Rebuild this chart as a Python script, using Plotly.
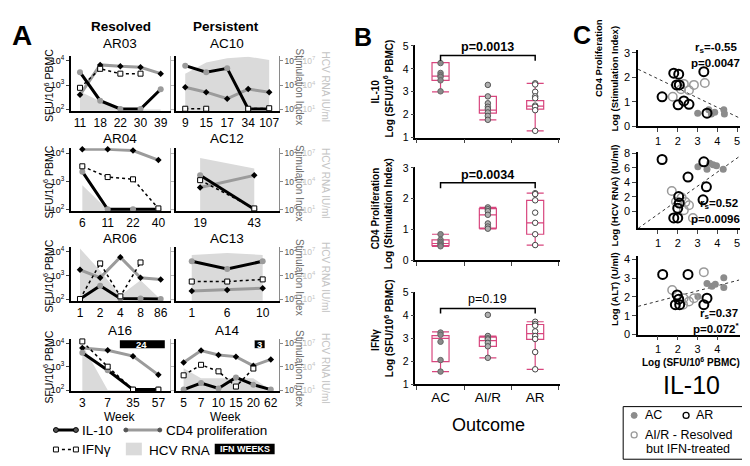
import plotly.graph_objects as go

W, H = 750, 466
NARROW = "Liberation Sans Narrow, Arial Narrow, Liberation Sans, Arial, sans-serif"
SANS = "Liberation Sans, Arial, sans-serif"
PINK = "#d8467e"
GREY_LINE = "#9b9b9b"
HCV_FILL = "#dadada"

# ---------------- Panel A data (log10 units) ----------------
# il10 / ifng: log10 SFU/10^6 PBMC ; cd4: log10 stimulation index ; hcv: log10 IU/ml
ar03_weeks = ["11", "18", "22", "30", "39"]
ar03_il10 = [3.53, 2.36, 2.02, 2.02, 2.83]
ar03_cd4 = [0.60, 1.83, 1.77, 1.73, 1.47]
ar03_ifng = [2.89, 3.67, 3.47, 3.47, None]
ar03_hcv = [3.2, 2.0, 1.0, 1.0, 1.0]

ac10_weeks = ["9", "15", "17", "34", "107"]
ac10_il10 = [3.80, 3.53, 3.69, 2.02, 2.02]
ac10_cd4 = [0.91, 0.71, 0.44, 0.84, 0.71]
ac10_ifng = [2.03, 2.03, None, 2.03, 2.05]
ac10_hcv = [5.4, 6.8, 7.3, 7.5, 7.1]

ar04_weeks = ["6", "11", "22", "40"]
ar04_il10 = [3.35, 2.02, 2.02, 2.02]
ar04_cd4 = [2.14, 2.14, 2.10, 1.76]
ar04_ifng = [3.54, 3.16, 3.08, 2.05]
ar04_hcv = [3.6, 1.0, 1.0, 1.0]

ac12_weeks = ["19", "43"]
ac12_il10 = [3.22, 2.02]
ac12_cd4 = [0.79, 1.22]
ac12_ifng = [3.05, 2.05]
ac12_hcv = [6.5, 5.4]

ar06_weeks = ["1", "2", "4", "8", "86"]
ar06_il10 = [2.02, 2.57, 2.04, 2.04, 2.02]
ar06_cd4 = [1.24, 0.91, 1.77, 0.91, 0.84]
ar06_ifng = [2.02, 3.51, 2.13, 3.55, None]
ar06_hcv = [7.4, 4.6, 1.5, 3.4, 1.0]

ac13_weeks = ["1", "6", "10"]
ac13_il10 = [3.60, 3.28, 3.60]
ac13_cd4 = [0.35, 0.40, 0.47]
ac13_ifng = [2.75, 2.75, 2.84]
ac13_hcv = [6.6, 6.85, 6.6]

a16_weeks = ["3", "7", "35", "57"]
a16_il10 = [3.60, 2.85, 2.02, 2.02]
a16_cd4 = [1.80, 1.70, 1.45, 0.65]
a16_ifng = [4.08, 3.00, 2.02, 2.02]
a16_hcv = [6.8, 1.0, 1.0, 1.0]

a14_weeks = ["5", "7", "10", "15", "20", "62"]
a14_il10 = [2.02, 2.30, 2.07, 2.54, 2.23, 2.02]
a14_cd4 = [1.18, 1.69, 1.50, 1.43, 1.04, 1.31]
a14_ifng = [2.63, 3.08, 2.80, 2.15, 2.92, None]
a14_hcv = [3.8, 2.5, 2.5, 2.5, 2.5, 1.0]

sfu_ticktext = ["10<sup>2</sup>", "10<sup>3</sup>", "10<sup>4</sup>"]
si_ticktext = ["10<sup>0</sup>", "10<sup>1</sup>", "10<sup>2</sup>"]
hcv_ticktext = ["10<sup>1</sup>", "10<sup>4</sup>", "10<sup>7</sup>"]

# ---------------- Panel B data ----------------
b_cats = ["AC", "AI/R", "AR"]
b_il10_ac = [4.25, 3.82, 3.72, 3.65, 3.50, 3.02]
b_il10_air = [3.30, 2.80, 2.50, 2.35, 2.25, 2.10, 1.95, 1.78]
b_il10_ar = [3.37, 3.32, 3.00, 2.80, 2.72, 2.40, 2.35, 2.20, 1.30]
b_il10_q1 = [3.50, 2.07, 2.25]
b_il10_med = [3.68, 2.20, 2.38]
b_il10_q3 = [4.27, 2.80, 2.62]
b_il10_lo = [3.00, 1.78, 1.30]
b_il10_hi = [4.27, 2.80, 3.37]

b_cd4_ac = [0.85, 0.67, 0.60, 0.55, 0.50, 0.46]
b_cd4_air = [1.72, 1.66, 1.60, 1.48, 1.20, 1.10, 1.03]
b_cd4_ar = [2.18, 2.15, 1.95, 1.55, 1.22, 0.85, 0.50]
b_cd4_q1 = [0.48, 1.05, 0.85]
b_cd4_med = [0.55, 1.48, 1.22]
b_cd4_q3 = [0.67, 1.68, 1.95]
b_cd4_lo = [0.46, 1.02, 0.50]
b_cd4_hi = [0.85, 1.72, 2.18]

b_ifng_ac = [3.25, 3.15, 2.85, 2.05, 1.55]
b_ifng_air = [4.02, 3.10, 3.00, 2.95, 2.80, 2.65, 2.15]
b_ifng_ar = [3.72, 3.62, 3.55, 3.30, 3.10, 2.97, 2.40, 1.65]
b_ifng_q1 = [1.98, 2.65, 2.95]
b_ifng_med = [3.00, 2.90, 3.20]
b_ifng_q3 = [3.12, 3.05, 3.60]
b_ifng_lo = [1.55, 2.15, 1.65]
b_ifng_hi = [3.28, 3.10, 3.72]

# ---------------- Panel C data ----------------
c1_ar_x = [1.80, 2.05, 3.32, 1.21, 1.94, 2.08, 2.31, 2.02, 2.57, 3.48]
c1_ar_y = [2.17, 2.13, 2.23, 1.20, 1.69, 1.69, 1.03, 0.87, 0.89, 0.53]
c1_air_x = [1.75, 2.31, 2.17, 2.57, 2.82, 3.37]
c1_air_y = [1.20, 1.73, 1.51, 1.47, 1.69, 1.77]
c1_ac_x = [3.01, 3.57, 3.70, 3.87, 4.33, 4.36]
c1_ac_y = [0.53, 0.67, 0.49, 0.57, 0.67, 0.49]
c1_fit_x = [0.0, 5.1]
c1_fit_y = [2.33, 0.34]

c2_ar_x = [1.21, 2.52, 3.32, 3.45, 3.28, 2.05, 2.08, 2.00, 1.80, 2.00]
c2_ar_y = [7.12, 4.72, 6.80, 3.38, 1.60, 2.05, 1.16, 0.45, -0.88, -0.88]
c2_air_x = [1.70, 2.20, 1.91, 2.39, 2.57, 2.31, 2.77]
c2_air_y = [2.80, 1.91, 1.35, 1.29, 0.85, 0.19, -0.88]
c2_ac_x = [3.02, 3.48, 3.62, 3.79, 3.96, 4.30]
c2_ac_y = [6.13, 5.77, 6.60, 6.40, 6.27, 5.77]
c2_fit_x = [0.0, 5.1]
c2_fit_y = [-2.3, 7.5]

c3_ar_x = [1.24, 2.52, 1.97, 2.05, 1.88, 2.10, 3.48, 3.32]
c3_ar_y = [3.20, 3.20, 2.11, 1.88, 1.59, 1.59, 1.93, 1.59]
c3_air_x = [3.32, 1.72, 2.30, 2.27, 2.57, 2.82]
c3_air_y = [3.32, 2.37, 1.93, 1.59, 1.76, 1.93]
c3_ac_x = [3.02, 3.48, 3.73, 3.90, 4.33, 4.33]
c3_ac_y = [2.02, 2.71, 2.57, 2.68, 3.02, 2.50]
c3_fit_x = [0.0, 5.1]
c3_fit_y = [1.50, 2.90]


def px(x):
    return x / W


def py(y):
    return 1 - y / H


fig = go.Figure()
lay = dict(width=W, height=H, margin=dict(l=0, r=0, t=0, b=0),
           paper_bgcolor="white", plot_bgcolor="white", showlegend=False,
           hovermode=False, font=dict(family=NARROW, color="black"))
annotations = []
shapes = []
counter = {"x": 0, "y": 0}


def new(axis):
    counter[axis] += 1
    i = counter[axis]
    return (f"{axis}axis" if i == 1 else f"{axis}axis{i}"), (axis if i == 1 else f"{axis}{i}")


def ann(text, x, y, size, color="black", family=NARROW, angle=0, xanchor="center", yanchor="middle"):
    annotations.append(dict(text=text, x=px(x), y=py(y), xref="paper", yref="paper", showarrow=False,
                            font=dict(size=size, color=color, family=family), textangle=angle,
                            xanchor=xanchor, yanchor=yanchor))


def pshape(kind, x0, y0, x1, y1, **kw):
    d = dict(type=kind, xref="paper", yref="paper", x0=px(x0), y0=py(y0), x1=px(x1), y1=py(y1))
    d.update(kw)
    shapes.append(d)


# ================= Panel A =================
panels_a = [
    ("AR03", ar03_weeks, ar03_il10, ar03_cd4, ar03_ifng, ar03_hcv),
    ("AC10", ac10_weeks, ac10_il10, ac10_cd4, ac10_ifng, ac10_hcv),
    ("AR04", ar04_weeks, ar04_il10, ar04_cd4, ar04_ifng, ar04_hcv),
    ("AC12", ac12_weeks, ac12_il10, ac12_cd4, ac12_ifng, ac12_hcv),
    ("AR06", ar06_weeks, ar06_il10, ar06_cd4, ar06_ifng, ar06_hcv),
    ("AC13", ac13_weeks, ac13_il10, ac13_cd4, ac13_ifng, ac13_hcv),
    ("A16", a16_weeks, a16_il10, a16_cd4, a16_ifng, a16_hcv),
    ("A14", a14_weeks, a14_il10, a14_cd4, a14_ifng, a14_hcv),
]
A_COLS = [(63, 162), (168, 271)]
A_ROWS = [(48, 98), (143, 201), (244, 293), (338, 386)]
A_TITLE_Y = [30, 128, 230, 325]
PAD_LO, PAD_HI = 0.05, 0.18

for i, (title, weeks, il10, cd4, ifng, hcv) in enumerate(panels_a):
    r, c = divmod(i, 2)
    x0, x1 = A_COLS[c]
    y4, y2 = A_ROWS[r]
    unit = (y2 - y4) / 2
    top = y4 - PAD_HI * unit
    bot = y2 + PAD_LO * unit
    xk, xr = new("x")
    hk, hr = new("y")
    ck, cr = new("y")
    sk, sr = new("y")
    n = len(weeks)
    lay[xk] = dict(domain=[px(x0), px(x1)], anchor=hr, type="category", categoryorder="array",
                   categoryarray=weeks, range=[-0.45, n - 0.55], showline=True, linecolor="black",
                   linewidth=1.5, ticks="", showgrid=False, zeroline=False,
                   tickfont=dict(size=12, family=NARROW))
    hax = dict(domain=[py(bot), py(top)], range=[1 - 3 * PAD_LO, 1 + 3 * (2 + PAD_HI)],
               showgrid=False, zeroline=False, showline=False, ticks="")
    if c == 1:
        hax.update(anchor="free", position=px(294), side="right", tickvals=[1, 4, 7],
                   ticktext=hcv_ticktext, tickfont=dict(size=8.5, color="#c4c4c4", family=SANS))
    else:
        hax.update(anchor=xr, showticklabels=False)
    lay[hk] = hax
    lay[ck] = dict(overlaying=hr, anchor=xr, side="right", range=[-PAD_LO, 2 + PAD_HI],
                   showgrid=False, zeroline=False, showline=True, linewidth=1.2,
                   linecolor=("#8a8a8a" if c == 1 else "#b8b8b8"), ticks="outside", ticklen=3,
                   tickcolor=("#8a8a8a" if c == 1 else "#b8b8b8"), tickvals=[0, 1, 2],
                   ticktext=si_ticktext, showticklabels=(c == 1),
                   tickfont=dict(size=8.5, color="#555555", family=SANS))
    lay[sk] = dict(overlaying=hr, anchor=xr, side="left", range=[2 - PAD_LO, 4 + PAD_HI],
                   showgrid=False, zeroline=False, showline=True, linewidth=1.5, linecolor="black",
                   ticks=("outside" if c == 0 else ""), ticklen=3, tickvals=[2, 3, 4],
                   ticktext=sfu_ticktext, showticklabels=(c == 0),
                   tickfont=dict(size=9, color="black", family=SANS))

    fig.add_trace(go.Scatter(x=weeks, y=hcv, xaxis=xr, yaxis=hr, mode="lines", fill="tozeroy",
                             fillcolor=HCV_FILL, line=dict(width=0, color=HCV_FILL)))
    fig.add_trace(go.Scatter(x=weeks, y=cd4, xaxis=xr, yaxis=cr, mode="lines+markers", cliponaxis=False,
                             line=dict(color=GREY_LINE, width=3),
                             marker=dict(symbol="diamond", size=5, color="black")))
    fig.add_trace(go.Scatter(x=weeks, y=il10, xaxis=xr, yaxis=sr, mode="lines+markers", cliponaxis=False,
                             line=dict(color="black", width=3),
                             marker=dict(symbol="circle", size=6, color=GREY_LINE)))
    fig.add_trace(go.Scatter(x=weeks, y=ifng, xaxis=xr, yaxis=sr, mode="lines+markers", cliponaxis=False,
                             line=dict(color="black", width=1.5, dash="dot"),
                             marker=dict(symbol="square", size=5, color="white",
                                         line=dict(color="black", width=1))))

    ann(title, (x0 + x1) / 2, A_TITLE_Y[r], 13.5)
    if c == 0:
        ann("SFU/10<sup>6</sup> PBMC", 40, (y4 + y2) / 2, 10.5, angle=-90)
    else:
        ann("Stimulation Index", 292, (y4 + y2) / 2 + 2, 10, color="#6a6a6a", angle=90)
        ann("HCV RNA IU/ml", 318, (y4 + y2) / 2 + 2, 10, color="#c4c4c4", angle=90)

ann("<b>A</b>", 14, 22, 28)
ann("<b>Resolved</b>", 113, 13, 13.5)
ann("<b>Persistent</b>", 218, 13, 13.5)
ann("Week", 112, 414, 12)
ann("Week", 218, 414, 12)

# IFN weeks markers
pshape("rect", 112, 335, 157, 343, fillcolor="black", line=dict(width=0))
ann("<b>24</b>", 134, 339, 9.5, color="white")
pshape("rect", 247, 335, 257, 343, fillcolor="black", line=dict(width=0))
ann("<b>3</b>", 252, 339, 9.5, color="white")

# Panel A legend
pshape("line", 48, 427, 68, 427, line=dict(color="black", width=3))
pshape("circle", 45.5, 424.5, 50.5, 429.5, fillcolor="#555555", line=dict(color="black", width=1))
pshape("circle", 65.5, 424.5, 70.5, 429.5, fillcolor="#555555", line=dict(color="black", width=1))
ann("IL-10", 72, 427, 13.5, xanchor="left")
pshape("line", 118, 427, 152, 427, line=dict(color=GREY_LINE, width=3))
pshape("circle", 116, 425, 120, 429, fillcolor="#555555", line=dict(color="#555555", width=1))
pshape("circle", 150, 425, 154, 429, fillcolor="#555555", line=dict(color="#555555", width=1))
ann("CD4 proliferation", 156, 427, 13.5, xanchor="left")
pshape("line", 48, 447, 68, 447, line=dict(color="black", width=1.5, dash="dot"))
pshape("rect", 45.5, 444.5, 50.5, 449.5, fillcolor="white", line=dict(color="black", width=1))
pshape("rect", 65.5, 444.5, 70.5, 449.5, fillcolor="white", line=dict(color="black", width=1))
ann("IFNγ", 72, 447, 13.5, xanchor="left")
pshape("rect", 118, 440, 134, 453, fillcolor=HCV_FILL, line=dict(width=0))
ann("HCV RNA", 139, 448, 13.5, xanchor="left")
pshape("rect", 207, 441, 267, 452, fillcolor="black", line=dict(width=0))
ann("<b>IFN WEEKS</b>", 237, 446.5, 9, color="white", family=SANS)

# ================= Panel B =================
b_specs = [
    (b_il10_ac, b_il10_air, b_il10_ar, b_il10_q1, b_il10_med, b_il10_q3, b_il10_lo, b_il10_hi,
     (127, 32), [1, 5.03], "<b>p=0.0013</b>", 4.58, 4.35, 4.96,
     "<b>IL-10</b>", 80, "<b>Log (SFU/10<sup>6</sup> PBMC)</b>", 76),
    (b_cd4_ac, b_cd4_air, b_cd4_ar, b_cd4_q1, b_cd4_med, b_cd4_q3, b_cd4_lo, b_cd4_hi,
     (253, 157), [0, 3.03], "<b>p=0.0034</b>", 2.52, 2.34, 2.78,
     "<b>CD4 Proliferation</b>", 200, "<b>Log (Stimulation Index)</b>", 205),
    (b_ifng_ac, b_ifng_air, b_ifng_ar, b_ifng_q1, b_ifng_med, b_ifng_q3, b_ifng_lo, b_ifng_hi,
     (380, 285), [1, 5.03], "p=0.19", 4.30, 4.08, 4.70,
     "<b>IFNγ</b>", 335, "<b>Log (SFU/10<sup>6</sup> PBMC)</b>", 322),
]
for j, (g_ac, g_air, g_ar, q1, med, q3, lo, hi, (yb, yt), yrange, ptxt, brk_y, brk_tick, p_y,
        t1, t1y, t2, t2y) in enumerate(b_specs):
    xk, xr = new("x")
    yk, yr = new("y")
    lay[xk] = dict(domain=[px(408), px(553)], anchor=yr, type="category", categoryorder="array",
                   categoryarray=b_cats, range=[-0.53, 2.53], tickson="boundaries", ticks="outside",
                   ticklen=4, showline=True, linecolor="black", linewidth=1.5, showgrid=False,
                   zeroline=False, showticklabels=(j == 2), tickfont=dict(size=13.5, family=NARROW))
    lay[yk] = dict(domain=[py(yb), py(yt)], anchor=xr, range=yrange, dtick=1, tick0=0,
                   ticks="outside", ticklen=3, showline=True, linecolor="black", linewidth=1.5,
                   showgrid=False, zeroline=False, tickfont=dict(size=10.5, family=SANS))
    fig.add_trace(go.Box(x=b_cats, q1=q1, median=med, q3=q3, lowerfence=lo, upperfence=hi,
                         xaxis=xr, yaxis=yr, boxpoints=False, width=0.36, whiskerwidth=1,
                         line=dict(color=PINK, width=1.2), fillcolor="rgba(0,0,0,0)"))
    styles = [("#8a8a8a", "#666666"), ("#b0b0b0", "#555555"), ("white", "#444444")]
    for cat, vals, (fc, lc) in zip(b_cats, [g_ac, g_air, g_ar], styles):
        fig.add_trace(go.Scatter(x=[cat] * len(vals), y=vals, xaxis=xr, yaxis=yr, mode="markers",
                                 cliponaxis=False,
                                 marker=dict(size=5.5, color=fc, line=dict(color=lc, width=1))))
    shapes.append(dict(type="path", xref=xr, yref=yr,
                       path=f"M 0,{brk_tick} L 0,{brk_y} L 2,{brk_y} L 2,{brk_tick}",
                       line=dict(color="black", width=1.5)))
    annotations.append(dict(text=ptxt, x=1, y=p_y, xref=xr, yref=yr, showarrow=False,
                            font=dict(size=12.5, family=NARROW)))
    ann(t1, 368, t1y, 10, angle=-90)
    ann(t2, 381, t2y, 10, angle=-90)

ann("<b>B</b>", 355, 24, 25)
ann("Outcome", 481, 422, 18)

# ================= Panel C =================
c_specs = [
    (c1_ar_x, c1_ar_y, c1_air_x, c1_air_y, c1_ac_x, c1_ac_y, c1_fit_x, c1_fit_y,
     (115, 37), [0, 3.12], [0, 1, 2, 3], [1, 2, 3, 4, 5],
     "<b>r<sub>s</sub>=-0.55</b>", 35, "<b>p=0.0047</b>", 50),
    (c2_ar_x, c2_ar_y, c2_air_x, c2_air_y, c2_ac_x, c2_ac_y, c2_fit_x, c2_fit_y,
     (220, 142), [-2.3, 8.1], [0, 2, 4, 6, 8], [1, 2, 3, 4, 5],
     "<b>r<sub>s</sub>=0.52</b>", 195, "<b>p=0.0096</b>", 210),
    (c3_ar_x, c3_ar_y, c3_air_x, c3_air_y, c3_ac_x, c3_ac_y, c3_fit_x, c3_fit_y,
     (329, 248), [0, 4.2], [0, 1, 2, 3, 4], [1, 2, 3, 4],
     "<b>r<sub>s</sub>=0.37</b>", 308, "<b>p=0.072<sup>*</sup></b>", 322),
]
for (arx, ary, airx, airy, acx, acy, fx, fy, (yb, yt), yrange, yt_vals, xt_vals,
     r_txt, r_y, p_txt, p_y) in c_specs:
    xk, xr = new("x")
    yk, yr = new("y")
    lay[xk] = dict(domain=[px(631), px(733)], anchor=yr, range=[0, 5.15], tickvals=xt_vals,
                   ticks="outside", ticklen=4, showline=True, linecolor="black", linewidth=1.5,
                   showgrid=False, zeroline=False, tickfont=dict(size=11, family=NARROW))
    lay[yk] = dict(domain=[py(yb), py(yt)], anchor=xr, range=yrange, tickvals=yt_vals,
                   ticks="outside", ticklen=4, showline=True, linecolor="black", linewidth=1.5,
                   showgrid=False, zeroline=False, tickfont=dict(size=11, family=NARROW))
    fig.add_trace(go.Scatter(x=fx, y=fy, xaxis=xr, yaxis=yr, mode="lines",
                             line=dict(color="#333333", width=1, dash="dot")))
    fig.add_trace(go.Scatter(x=acx, y=acy, xaxis=xr, yaxis=yr, mode="markers", cliponaxis=False,
                             marker=dict(symbol="circle", size=7, color="#8c8c8c")))
    fig.add_trace(go.Scatter(x=airx, y=airy, xaxis=xr, yaxis=yr, mode="markers", cliponaxis=False,
                             marker=dict(symbol="circle-open", size=8.5, color="#9a9a9a",
                                         line=dict(width=1.5))))
    fig.add_trace(go.Scatter(x=arx, y=ary, xaxis=xr, yaxis=yr, mode="markers", cliponaxis=False,
                             marker=dict(symbol="circle-open", size=9, color="black",
                                         line=dict(width=2))))
    ann(r_txt, 733, r_y, 11.5, xanchor="right")
    ann(p_txt, 735, p_y, 11.5, xanchor="right")

ann("<b>C</b>", 575, 22, 25)
ann("<b>CD4 Proliferation</b>", 592, 45, 9.5, angle=-90)
ann("<b>Log (Stimulation Index)</b>", 607, 66, 9.5, angle=-90)
ann("<b>Log (HCV RNA) (IU/ml)</b>", 607, 186, 9.5, angle=-90)
ann("<b>Log (ALT) (U/ml)</b>", 608, 282, 9.5, angle=-90)
ann("<b>Log (SFU/10<sup>6</sup> PBMC)</b>", 684, 357, 10)
ann("IL-10", 684, 381, 25)

# Panel C legend
pshape("rect", 616, 403, 742, 457, line=dict(color="black", width=1), fillcolor="rgba(0,0,0,0)")
pshape("circle", 624, 409, 630, 415, fillcolor="#8c8c8c", line=dict(color="#8c8c8c", width=1))
ann("AC", 636, 412, 12.5, xanchor="left")
pshape("circle", 676, 409, 682, 415, fillcolor="white", line=dict(color="black", width=1.3))
ann("AR", 687, 412, 12.5, xanchor="left")
pshape("circle", 624, 429, 630, 435, fillcolor="white", line=dict(color="#9a9a9a", width=1.3))
ann("AI/R - Resolved", 636, 432, 12.5, xanchor="left")
ann("but IFN-treated", 637, 447, 12.5, xanchor="left")

lay["annotations"] = annotations
lay["shapes"] = shapes
fig.update_layout(**lay)
fig.write_html("out.html")
